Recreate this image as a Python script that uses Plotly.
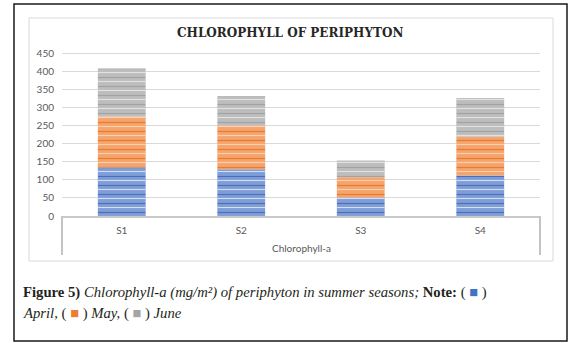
import numpy as np
import plotly.graph_objects as go

# ---------------- data ----------------
sites = ["S1", "S2", "S3", "S4"]
group_label = "Chlorophyll-a"
april = [134, 129, 51, 112]
may = [141, 121, 56, 107]
june = [132, 81, 46, 107]
series_names = ["April", "May", "June"]
y_tick_vals = [0, 50, 100, 150, 200, 250, 300, 350, 400, 450]
chart_title = "CHLOROPHYLL OF PERIPHYTON"

# ---------------- styles ----------------
bg_cols = ["#7F9DD7", "#F4A46C", "#BDBDBD"]
dark_cols = ["#4A6FBC", "#EA7A2E", "#A2A2A2"]
light_cols = ["#D3DEF3", "#FAD0B0", "#E2E2E2"]
swatch_cols = ["#4472C4", "#ED7D31", "#A5A5A5"]

W, HF = 587, 343
ML, MR = 62, 47
T, Y0, D = 46, 216, 4          # top of plot, zero line, stripe offset (px)
B = Y0 + D
MB = HF - B
K = 163 / 450                   # px per unit
H = B - T
top_val = (Y0 - T) / K


def px_x(p):
    return (p - ML) / (W - ML - MR)


def px_y(p):
    return (B - p) / H


series = [april, may, june]
cum = np.cumsum(np.array(series, dtype=float), axis=0)
bases = np.vstack([np.zeros(len(sites)), cum[:-1]])

fig = go.Figure()
for i, name in enumerate(series_names):
    fig.add_trace(go.Bar(
        x=sites, y=series[i], base=bases[i], name=name,
        xaxis="x", yaxis="y", showlegend=False,
        marker=dict(color=bg_cols[i], line=dict(width=0),
                    pattern=dict(shape="-", size=9, solidity=0.13,
                                 fgcolor=dark_cols[i], bgcolor=bg_cols[i],
                                 fillmode="replace")),
    ))
for i, name in enumerate(series_names):
    fig.add_trace(go.Bar(
        x=sites, y=series[i], base=bases[i], name=name,
        xaxis="x", yaxis="y2", showlegend=False, hoverinfo="skip",
        marker=dict(color="rgba(0,0,0,0)", line=dict(width=0),
                    pattern=dict(shape="-", size=9, solidity=0.12,
                                 fgcolor=light_cols[i], bgcolor="rgba(0,0,0,0)",
                                 fillmode="replace")),
    ))

tick_font = dict(family="Lato, Liberation Sans, sans-serif", size=10, color="#595959")

fig.update_layout(
    width=W, height=HF,
    margin=dict(l=ML, r=MR, t=T, b=MB, pad=0),
    paper_bgcolor="white", plot_bgcolor="rgba(0,0,0,0)",
    barmode="overlay", bargap=0.6,
    showlegend=False,
    xaxis=dict(
        type="category", anchor="y",
        showline=True, linecolor="#C9C9C9", linewidth=1.5,
        showgrid=False, ticks="",
        ticklabelstandoff=4,
        tickfont=tick_font,
    ),
    yaxis=dict(
        domain=[D / H, 1], range=[0, top_val],
        tickvals=y_tick_vals, showgrid=True, gridcolor="#D9D9D9", gridwidth=1,
        zeroline=False, showline=False, ticks="",
        ticklabelstandoff=7, tickfont=tick_font,
    ),
    yaxis2=dict(
        domain=[0, 1 - D / H], range=[-D / K, top_val - D / K],
        anchor="x", visible=False, showgrid=False, zeroline=False,
    ),
)

# group label and its dividers (category box below the axis)
fig.add_annotation(text=group_label, xref="x domain", yref="paper", x=0.5, y=px_y(248),
                   xanchor="center", yanchor="middle", showarrow=False, font=tick_font)
for xd in (0, 1):
    fig.add_shape(type="line", xref="x domain", yref="paper", x0=xd, x1=xd,
                  y0=px_y(216), y1=px_y(255), line=dict(color="#C4C4C4", width=2))

# frames
fig.add_shape(type="rect", xref="paper", yref="paper",
              x0=px_x(14), x1=px_x(567), y0=px_y(341), y1=px_y(4),
              line=dict(color="#1A1A1A", width=1.5), fillcolor="rgba(0,0,0,0)", layer="below")
fig.add_shape(type="rect", xref="paper", yref="paper",
              x0=px_x(29), x1=px_x(553), y0=px_y(261), y1=px_y(18),
              line=dict(color="#D9D9D9", width=1), fillcolor="rgba(0,0,0,0)", layer="below")

# title
fig.add_annotation(text="<b>" + chart_title + "</b>", xref="paper", yref="paper",
                   x=px_x(290), y=px_y(33), xanchor="center", yanchor="middle",
                   showarrow=False,
                   font=dict(family="DejaVu Serif, serif", size=12, color="#262626"))

# caption
cap_font = dict(family="Liberation Serif, serif", size=14.7, color="#231F20")
line1 = ("<b>Figure 5)</b> <i>Chlorophyll-a (mg/m²) of periphyton in summer seasons;</i> "
         "<b>Note:</b> ( <span style='color:%s'>■</span> )" % swatch_cols[0])
line2 = ("<i>April,</i> ( <span style='color:%s'>■</span> ) <i>May,</i> "
         "( <span style='color:%s'>■</span> ) <i>June</i>" % (swatch_cols[1], swatch_cols[2]))
fig.add_annotation(text=line1, xref="paper", yref="paper", x=px_x(21), y=px_y(292),
                   xanchor="left", yanchor="middle", showarrow=False, font=cap_font, align="left")
fig.add_annotation(text=line2, xref="paper", yref="paper", x=px_x(21), y=px_y(313),
                   xanchor="left", yanchor="middle", showarrow=False, font=cap_font, align="left")

fig.write_html("out.html")
